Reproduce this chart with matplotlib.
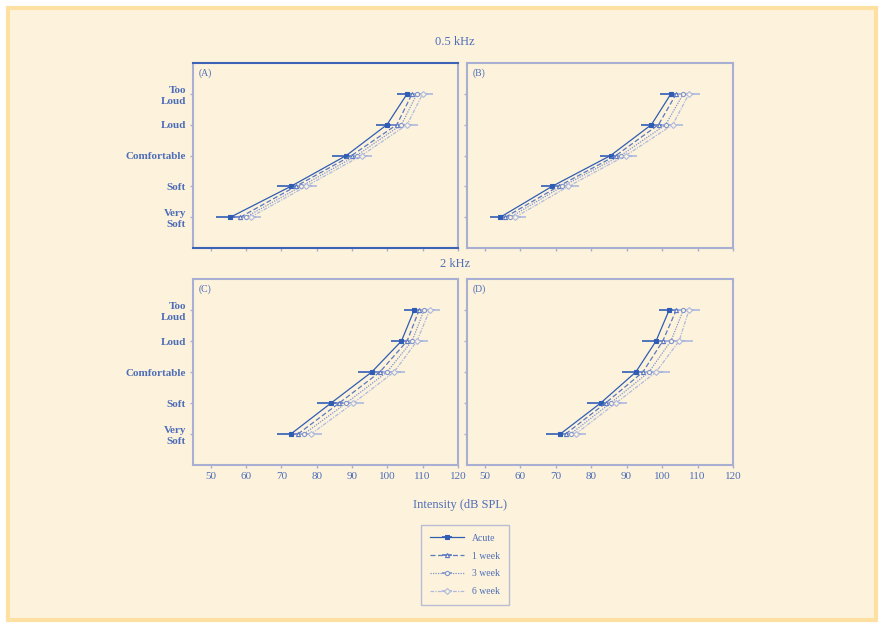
import numpy as np
import matplotlib.pyplot as plt
from matplotlib.patches import Rectangle

plt.rcParams['font.family'] = ['Liberation Serif', 'DejaVu Serif']

# loudness categories (bottom to top)
levels = [1, 2, 3, 4, 5]
top_labels = ["Very\nSoft", "Soft", "Comfortable", "Loud", "Too\nLoud"]
bottom_labels = ["Very\nSoft", "Soft", "Comfortable", "Loud", "Too\nLoud"]
series = ["Acute", "1 week", "3 week", "6 week"]
x_ticks = [50, 60, 70, 80, 90, 100, 110, 120]

# mean intensity (dB SPL) per category, one list per session
a_means = [[55.6, 72.7, 88.4, 99.9, 105.6],
           [58.4, 74.1, 89.9, 102.7, 107.0],
           [59.9, 75.6, 91.3, 104.0, 108.4],
           [61.3, 77.0, 92.7, 105.6, 110.0]]
b_means = [[54.4, 69.0, 85.5, 97.0, 102.5],
           [55.8, 70.8, 87.0, 99.0, 104.0],
           [57.2, 71.9, 88.4, 101.0, 106.0],
           [58.6, 73.6, 89.8, 103.0, 107.6]]
c_means = [[72.7, 84.1, 95.6, 104.0, 107.6],
           [74.7, 86.4, 97.9, 105.6, 109.0],
           [76.4, 88.4, 99.9, 107.0, 110.4],
           [78.4, 90.4, 101.9, 108.4, 112.0]]
d_means = [[71.3, 82.7, 92.6, 98.3, 102.0],
           [72.8, 84.1, 94.6, 100.2, 104.0],
           [74.2, 85.5, 96.3, 102.5, 106.0],
           [75.6, 87.0, 98.3, 104.8, 107.6]]
# standard deviations
a_sd = [[4, 4, 4, 3, 3], [3, 3, 3, 3, 3], [3, 3, 3, 3, 3], [3, 3, 3, 3, 3]]
b_sd = [[3, 3, 3, 3, 3], [3, 3, 3, 3, 2], [3, 3, 3, 3, 3], [3, 3, 3, 3, 3]]
c_sd = [[4, 4, 4, 3, 3], [3, 4, 4, 3, 3], [3, 3, 4, 3, 3], [3, 3, 3, 3, 3]]
d_sd = [[4, 4, 4, 4, 3], [3, 4, 4, 4, 3], [3, 3, 4, 4, 3], [3, 3, 4, 4, 3]]

bg = '#FDF3DC'
txt = '#4E6DB8'
spine_c = '#A9AFD2'
colors = ['#2F5DB3', '#5B78C2', '#8196CF', '#AEB9DE']
styles = ['-', (0, (4, 2)), (0, (1, 1)), (0, (3, 1, 1, 1))]
markers = ['s', '^', 'o', 'D']

fig = plt.figure(figsize=(8.82, 6.26), dpi=100, facecolor='white')
fig.patches.append(Rectangle((8 / 882, 6 / 626), 868 / 882, 612 / 626,
                             transform=fig.transFigure, facecolor=bg,
                             edgecolor='#FDE0A2', linewidth=3, zorder=-1))

W, H = 882, 626
def box(l, t, r, b):
    return [l / W, 1 - b / H, (r - l) / W, (b - t) / H]

panels = [
    (box(193, 63, 458, 248), a_means, a_sd, "(A)", top_labels, False),
    (box(467, 63, 733, 248), b_means, b_sd, "(B)", None, False),
    (box(193, 279, 458, 465), c_means, c_sd, "(C)", bottom_labels, True),
    (box(467, 279, 733, 465), d_means, d_sd, "(D)", None, True),
]

handles = []
for pos, means, sds, tag, ylabels, show_x in panels:
    ax = fig.add_axes(pos)
    ax.set_facecolor(bg)
    for i in range(4):
        h = ax.errorbar(means[i], levels, xerr=sds[i], color=colors[i],
                        linestyle=styles[i], marker=markers[i], markersize=3,
                        linewidth=0.9, elinewidth=1.2, capsize=0,
                        markerfacecolor=colors[i] if i == 0 else bg,
                        markeredgewidth=0.8)
        if tag == "(A)":
            handles.append(h)
    ax.set_xlim(45, 120)
    ax.set_ylim(0, 6)
    ax.set_xticks(x_ticks)
    ax.set_yticks(levels)
    if ylabels:
        ax.set_yticklabels(ylabels, fontsize=8, fontweight='bold',
                           color=txt, linespacing=1.3)
    else:
        ax.set_yticklabels([])
    if show_x:
        ax.set_xticklabels([str(v) for v in x_ticks], fontsize=8, color=txt)
    else:
        ax.set_xticklabels([])
    ax.tick_params(length=2, width=1, color=spine_c, pad=3)
    for s in ax.spines.values():
        s.set_color(spine_c)
        s.set_linewidth(1.5)
    if tag == "(A)":
        ax.spines['top'].set_color('#3C63B5')
        ax.spines['bottom'].set_color('#3C63B5')
    ax.text(0.02, 0.97, tag, transform=ax.transAxes, fontsize=7,
            color=txt, va='top', ha='left')

fig.text(455 / W, 1 - 42 / H, "0.5 kHz", ha='center', va='center',
         fontsize=9, color=txt)
fig.text(455 / W, 1 - 264 / H, "2 kHz", ha='center', va='center',
         fontsize=9, color=txt)
fig.text(460 / W, 1 - 505 / H, "Intensity (dB SPL)", ha='center',
         va='center', fontsize=9, color=txt)

leg = fig.legend(handles, series, loc='center',
                 bbox_to_anchor=(465 / W, 1 - 565 / H), fontsize=7,
                 frameon=True, fancybox=False, facecolor=bg,
                 edgecolor=spine_c, labelspacing=0.9, handlelength=3.5,
                 borderpad=0.9)
for t in leg.get_texts():
    t.set_color(txt)

fig.savefig('out.png', dpi=100, facecolor='white')
